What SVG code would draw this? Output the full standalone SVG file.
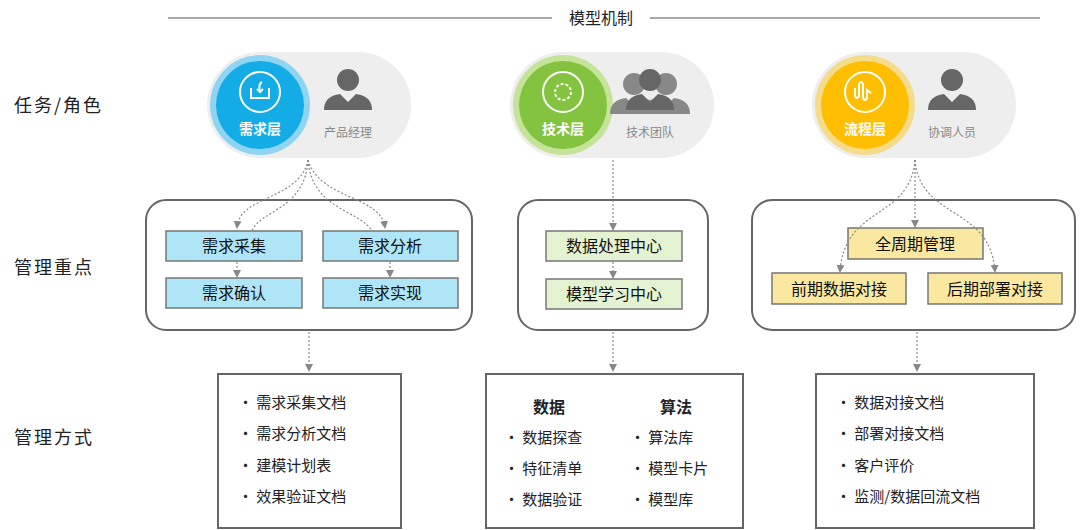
<svg xmlns="http://www.w3.org/2000/svg" width="1080" height="530" viewBox="0 0 1080 530">
<style>
text{font-family:"Noto Sans CJK SC","Liberation Sans",sans-serif;}
.lab{font-size:18px;fill:#222;letter-spacing:2px}
.bx{stroke:#777;stroke-width:1.5}
.bt{font-size:16px;fill:#111;text-anchor:middle}
.outer{fill:#fff;stroke:#666;stroke-width:2}
.li{font-size:15px;fill:#222}
.con{fill:none;stroke:#888;stroke-width:1.2;stroke-dasharray:2 2}
.pill{fill:#eeeeee}
.per{fill:#666}
.pt{font-size:12px;fill:#888;text-anchor:middle}
.ct{font-size:14px;fill:#fff;font-weight:bold;text-anchor:middle}
</style>
<defs>
<marker id="ar" markerWidth="8" markerHeight="8" refX="6" refY="4" orient="auto" markerUnits="userSpaceOnUse"><path d="M0,0 L8,4 L0,8 z" fill="#888"/></marker>
<g id="person"><circle cx="0" cy="-12" r="11"/><path d="M-24,18 Q-24,4 -8,2 L0,10 L8,2 Q24,4 24,18 z"/></g>
</defs>
<line x1="168" y1="18" x2="552" y2="18" stroke="#555"/>
<line x1="650" y1="18" x2="1040" y2="18" stroke="#555"/>
<text x="601" y="24" font-size="16" text-anchor="middle" fill="#222">模型机制</text>
<text class="lab" x="14" y="112">任务/角色</text>
<text class="lab" x="14" y="274">管理重点</text>
<text class="lab" x="14" y="444">管理方式</text>

<g id="pill1"><rect class="pill" x="207" y="52" width="204" height="106" rx="53"/><circle cx="260" cy="105" r="50" fill="#8fd5f2"/><circle cx="260" cy="105" r="44" fill="#13ace6"/><circle cx="260" cy="92" r="20" fill="none" stroke="#fff" stroke-width="2"/><path d="M251,88 v10 h18 v-10" fill="none" stroke="#fff" stroke-width="2"/><path d="M262,82 q-4,2 -2,10 m-3,-3 l3,3 3,-3" fill="none" stroke="#fff" stroke-width="2"/><text class="ct" x="260" y="134">需求层</text><use href="#person" x="348" y="92" class="per"/><text class="pt" x="348" y="137">产品经理</text></g>
<g id="pill2"><rect class="pill" x="510" y="52" width="204" height="106" rx="53"/><circle cx="563" cy="105" r="50" fill="#c6e39a"/><circle cx="563" cy="105" r="44" fill="#84c340"/><circle cx="563" cy="92" r="20" fill="none" stroke="#fff" stroke-width="2"/><circle cx="563" cy="92" r="8" fill="none" stroke="#fff" stroke-width="2" stroke-dasharray="3 2"/><text class="ct" x="563" y="134">技术层</text><use href="#person" x="634" y="96" fill="#888"/><use href="#person" x="666" y="96" fill="#888"/><use href="#person" x="650" y="92" class="per"/><text class="pt" x="650" y="137">技术团队</text></g>
<g id="pill3"><rect class="pill" x="812" y="52" width="204" height="106" rx="53"/><circle cx="865" cy="105" r="50" fill="#f5dc8a"/><circle cx="865" cy="105" r="44" fill="#ffbf00"/><circle cx="865" cy="92" r="20" fill="none" stroke="#fff" stroke-width="2"/><path d="M855,88 v8 q2,4 4,0 v-12 q2,-4 4,0 v14 q2,4 4,0 v-8 l4,3" fill="none" stroke="#fff" stroke-width="2"/><text class="ct" x="865" y="134">流程层</text><use href="#person" x="952" y="92" class="per"/><text class="pt" x="952" y="137">协调人员</text></g>

<g id="box1"><rect class="outer" x="146" y="200" width="326" height="130" rx="20"/>
<rect class="bx" x="166" y="231" width="136" height="30" fill="#aee6f8"/><text class="bt" x="234" y="252">需求采集</text>
<rect class="bx" x="323" y="231" width="135" height="30" fill="#aee6f8"/><text class="bt" x="390" y="252">需求分析</text>
<rect class="bx" x="166" y="278" width="136" height="30" fill="#aee6f8"/><text class="bt" x="234" y="299">需求确认</text>
<rect class="bx" x="323" y="278" width="135" height="30" fill="#aee6f8"/><text class="bt" x="390" y="299">需求实现</text></g>
<g id="box2"><rect class="outer" x="518" y="200" width="190" height="130" rx="20"/>
<rect class="bx" x="546" y="231" width="136" height="30" fill="#e3f2d0"/><text class="bt" x="614" y="252">数据处理中心</text>
<rect class="bx" x="546" y="279" width="136" height="30" fill="#e3f2d0"/><text class="bt" x="614" y="300">模型学习中心</text></g>
<g id="box3"><rect class="outer" x="752" y="200" width="323" height="130" rx="20"/>
<rect class="bx" x="848" y="228" width="135" height="31" fill="#fbe8a0"/><text class="bt" x="915" y="250">全周期管理</text>
<rect class="bx" x="772" y="273" width="134" height="31" fill="#fbe8a0"/><text class="bt" x="839" y="295">前期数据对接</text>
<rect class="bx" x="928" y="273" width="134" height="31" fill="#fbe8a0"/><text class="bt" x="995" y="295">后期部署对接</text></g>

<g id="doc1"><rect class="outer" x="218" y="374" width="183" height="154" rx="0"/>
<g class="li"><text x="238" y="408">•  需求采集文档</text><text x="238" y="439">•  需求分析文档</text><text x="238" y="471">•  建模计划表</text><text x="238" y="502">•  效果验证文档</text></g></g>
<g id="doc2"><rect class="outer" x="486" y="374" width="257" height="154" rx="0"/>
<text x="549" y="413" font-size="16" font-weight="bold" text-anchor="middle" fill="#222">数据</text><text x="676" y="413" font-size="16" font-weight="bold" text-anchor="middle" fill="#222">算法</text>
<g class="li"><text x="504" y="443">•  数据探查</text><text x="504" y="474">•  特征清单</text><text x="504" y="505">•  数据验证</text><text x="630" y="443">•  算法库</text><text x="630" y="474">•  模型卡片</text><text x="630" y="505">•  模型库</text></g></g>
<g id="doc3"><rect class="outer" x="816" y="374" width="218" height="154" rx="0"/>
<g class="li"><text x="836" y="408">•  数据对接文档</text><text x="836" y="439">•  部署对接文档</text><text x="836" y="471">•  客户评价</text><text x="836" y="502">•  监测/数据回流文档</text></g></g>

<g id="connectors">
<path class="con" d="M308,160 C300,200 240,195 237,227" marker-end="url(#ar)"/>
<path class="con" d="M308,160 C305,210 260,210 252,231"/>
<path class="con" d="M308,160 C320,200 380,195 385,227" marker-end="url(#ar)"/>
<path class="con" d="M308,160 C312,210 360,210 372,231"/>
<path class="con" d="M237,262 V276" marker-end="url(#ar)"/>
<path class="con" d="M390,262 V276" marker-end="url(#ar)"/>
<path class="con" d="M613,160 V229" marker-end="url(#ar)"/>
<path class="con" d="M613,262 V277" marker-end="url(#ar)"/>
<path class="con" d="M915,160 V226" marker-end="url(#ar)"/>
<path class="con" d="M915,160 C910,220 845,205 840,271" marker-end="url(#ar)"/>
<path class="con" d="M915,160 C920,220 990,205 995,271" marker-end="url(#ar)"/>
<path class="con" d="M309,332 V370" marker-end="url(#ar)"/>
<path class="con" d="M613,332 V370" marker-end="url(#ar)"/>
<path class="con" d="M917,332 V370" marker-end="url(#ar)"/>
</g>
</svg>
